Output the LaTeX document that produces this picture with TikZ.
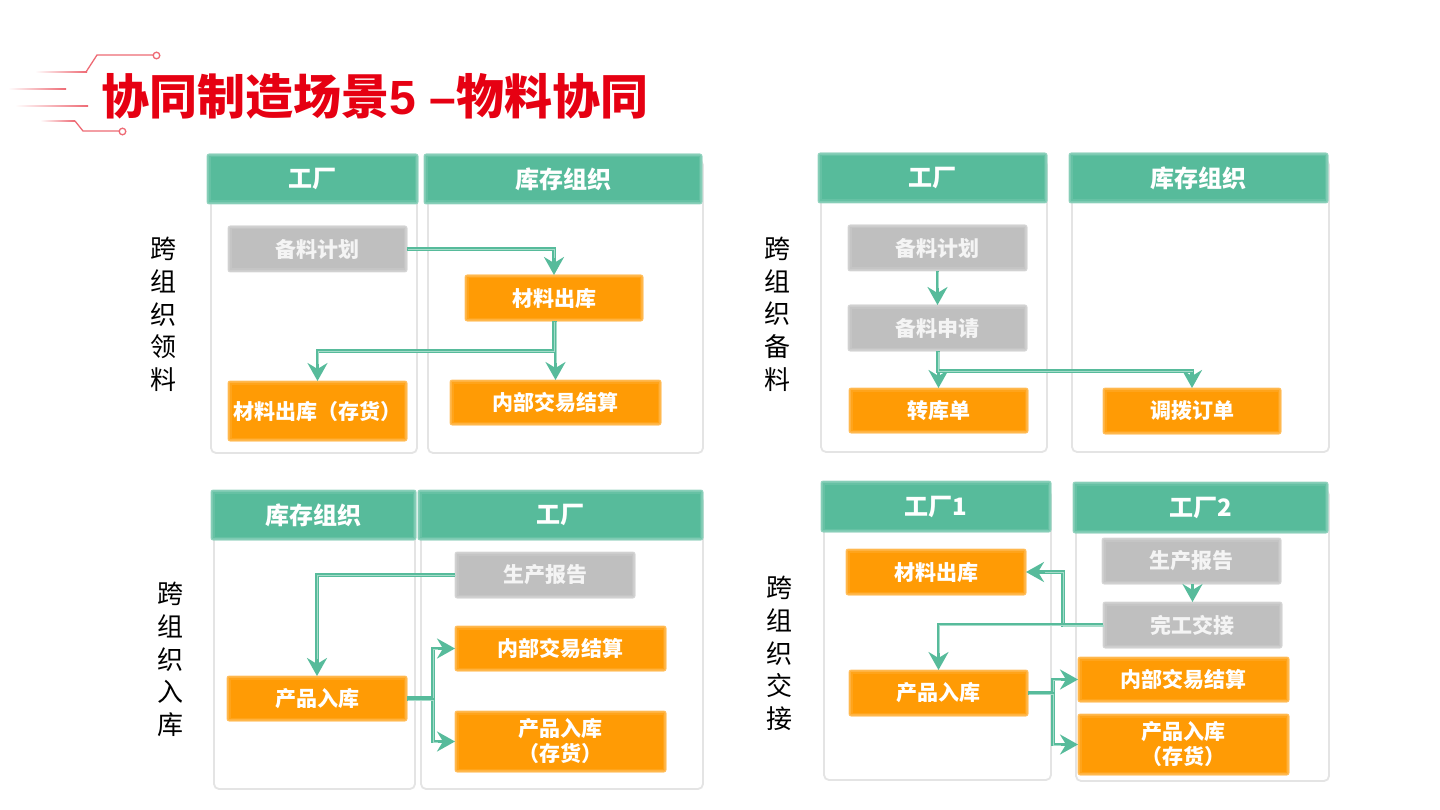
\documentclass[tikz,border=0pt]{standalone}
\usepackage{fontspec}
\setmainfont{Noto Sans CJK SC}
\newfontfamily\latinbold{Liberation Sans}[BoldFont={Liberation Sans Bold}]
\usetikzlibrary{arrows.meta}
\definecolor{hdgreen}{HTML}{57BB9B}
\definecolor{lnhi}{HTML}{A6DCCA}
\definecolor{boxorange}{HTML}{FF9B05}
\definecolor{boxgray}{HTML}{BFBFBF}
\definecolor{titlered}{HTML}{E60012}
\definecolor{decored}{HTML}{EE6A74}
\definecolor{panelline}{HTML}{E4E4E4}
\definecolor{graytxt}{HTML}{F4F4F4}
\tikzset{
  softbox/.style={fill=#1, draw=#1!60!white, line width=.8pt, rounded corners=2pt, inner sep=0pt, outer sep=0pt,
    path picture={
      \draw[#1!65!white,line width=4pt,sharp corners] (path picture bounding box.south west) rectangle (path picture bounding box.north east);
      \draw[#1!85!white,line width=7pt,opacity=.6,sharp corners] (path picture bounding box.south west) rectangle (path picture bounding box.north east);
    }},
  hdr/.style={softbox=hdgreen, text=white, font=\bfseries\fontsize{24}{28}\selectfont},
  orangebox/.style={softbox=boxorange, text=white, align=center, font=\bfseries\fontsize{21}{25}\selectfont},
  graybox/.style={softbox=boxgray, text=graytxt, align=center, font=\bfseries\fontsize{21}{25}\selectfont},
  panel/.style={fill=white, draw=panelline, line width=1.8pt, rounded corners=5pt},
  sidelabel/.style={align=center, text=black, inner sep=0pt, font=\fontsize{26}{32.7}\selectfont},
  conn/.style={draw=hdgreen, line width=3.2pt, -{Stealth[length=18pt,width=20pt,inset=6pt]},
    postaction={draw=lnhi, line width=.9pt, arrows=-, shorten >=18pt, transform canvas={shift={(.9pt,-.9pt)}}}},
  deco/.style={draw=decored, line width=1.3pt}
}
\newcommand{\bx}[7][]{\node[#2, #1, minimum width={(#5-#3)*1pt}, minimum height={(#6-#4)*1pt}] at ({(#3+#5)/2},{(#4+#6)/2}) #7;}
\newcommand{\fade}[4]{\shade[left color=white,right color=decored] (#1,#3-.7) rectangle (#2,#3+.7);}
\begin{document}
\begin{tikzpicture}[x=1pt,y=-1pt]
\useasboundingbox (0,0) rectangle (1440,810);
\fill[white] (0,0) rectangle (1440,810);

% title decoration
\fade{35}{87}{72}{}
\fade{8}{66}{89}{}
\fade{15}{88}{106}{}
\fade{40}{75}{121}{}
\draw[deco] (86,72) -- (97,55) -- (153,55);
\draw[deco] (75,121) -- (83,131) -- (119,131);
\coordinate (c1) at (156.5,55.5);
\coordinate (c2) at (122.5,131.5);
\draw[deco,fill=white] (c1) circle (3.3);
\draw[deco,fill=white] (c2) circle (3.3);
\node[anchor=west,inner sep=0pt,text=titlered,font=\bfseries\fontsize{48}{52}\selectfont] (title) at (101.5,96) {协同制造场景{\latinbold 5 –}物料协同};

% side labels
\node[sidelabel] (s1) at (163,314.5) {跨\\组\\织\\领\\料};
\node[sidelabel] (s2) at (777,314) {跨\\组\\织\\备\\料};
\node[sidelabel] (s3) at (170,659.5) {跨\\组\\织\\入\\库};
\node[sidelabel] (s4) at (779,653.5) {跨\\组\\织\\交\\接};

% panels
\draw[panel] (211,160) rectangle (417,453);
\draw[panel] (428,160) rectangle (703,453);
\draw[panel] (821,160) rectangle (1047,452);
\draw[panel] (1072,160) rectangle (1329,452);
\draw[panel] (214,496) rectangle (415,789);
\draw[panel] (421,496) rectangle (703,789);
\draw[panel] (824,490) rectangle (1051,780);
\draw[panel] (1076,490) rectangle (1329,781);

% headers
\bx{hdr}{207}{154}{418}{204}{(h1) {\raisebox{-1pt}{工厂}}}
\bx{hdr}{424}{154}{702}{204}{(h2) {\raisebox{-1pt}{库存组织}}}
\bx{hdr}{818}{153}{1047}{203}{(h3) {\raisebox{-1pt}{工厂}}}
\bx{hdr}{1069}{153}{1328}{203}{(h4) {\raisebox{-1pt}{库存组织}}}
\bx{hdr}{211}{490}{416}{540}{(h5) {\raisebox{-1pt}{库存组织}}}
\bx{hdr}{418}{490}{703}{540}{(h6) {\raisebox{-1pt}{工厂}}}
\bx{hdr}{821}{481}{1051}{532}{(h7) {工厂1}}
\bx{hdr}{1073}{482}{1328}{533}{(h8) {工厂2}}

% top-left
\bx{graybox}{228}{226}{407}{272}{(a1) {备料计划}}
\bx{orangebox}{465}{275}{643}{321}{(a2) {材料出库}}
\bx{orangebox}{228}{381}{407}{441}{(a3) {\raisebox{-1pt}{材料出库（存货）}}}
\bx{orangebox}{450}{380}{661}{425}{(a4) {内部交易结算}}

% top-right
\bx{graybox}{848}{225}{1027}{271}{(b1) {备料计划}}
\bx{graybox}{848}{305}{1027}{351}{(b2) {备料申请}}
\bx{orangebox}{849}{388}{1028}{433}{(b3) {转库单}}
\bx{orangebox}{1103}{388}{1281}{434}{(b4) {调拨订单}}

% bottom-left
\bx{graybox}{455}{552}{635}{598}{(c1b) {\raisebox{-1pt}{生产报告}}}
\bx{orangebox}{227}{676}{407}{721}{(c2b) {\raisebox{-1pt}{产品入库}}}
\bx{orangebox}{455}{626}{666}{671}{(c3b) {\raisebox{-1pt}{内部交易结算}}}
\bx{orangebox}{455}{711}{666}{772}{(c4b) {产品入库\\（存货）}}

% bottom-right
\bx{graybox}{1102}{538}{1281}{584}{(d1) {\raisebox{-1pt}{生产报告}}}
\bx{graybox}{1103}{602}{1282}{648}{(d2) {\raisebox{-1pt}{完工交接}}}
\bx{orangebox}{846}{549}{1026}{595}{(d3) {\raisebox{-1pt}{材料出库}}}
\bx{orangebox}{849}{670}{1028}{716}{(d4) {\raisebox{-1pt}{产品入库}}}
\bx{orangebox}{1078}{657}{1289}{702}{(d5) {\raisebox{-1pt}{内部交易结算}}}
\bx{orangebox}{1078}{714}{1289}{775}{(d6) {产品入库\\（存货）}}

% connectors
\draw[conn] (a1.east) -| (a2.north);
\draw[conn] (a4.north |- a2.south) -- (a4.north);
\draw[conn] (a2.south) -- ++(0,30) -| (a3.north);

\draw[conn] (b1.south) -- (b2.north);
\draw[conn] (b3.north |- b2.south) -- (b3.north);
\draw[conn] (b2.south) -- ++(0,20) -| (b4.north);

\draw[conn] (c1b.west) -| (c2b.north);
\draw[conn] ([yshift=.8pt]c2b.east) -- ++(26,0) |- (c3b.west);
\draw[conn] ([yshift=-.8pt]c2b.east) -- ++(26,0) |- (c4b.west);

\draw[conn] (d2.north |- d1.south) -- (d2.north);
\draw[conn] ([yshift=-.8pt]d2.west) -- ++(-40,0) |- (d3.east);
\draw[conn] ([yshift=.8pt]d2.west) -| (d4.north);
\draw[conn] ([yshift=.8pt]d4.east) -- ++(25,0) |- (d5.west);
\draw[conn] ([yshift=-.8pt]d4.east) -- ++(25,0) |- (d6.west);
\end{tikzpicture}
\end{document}
